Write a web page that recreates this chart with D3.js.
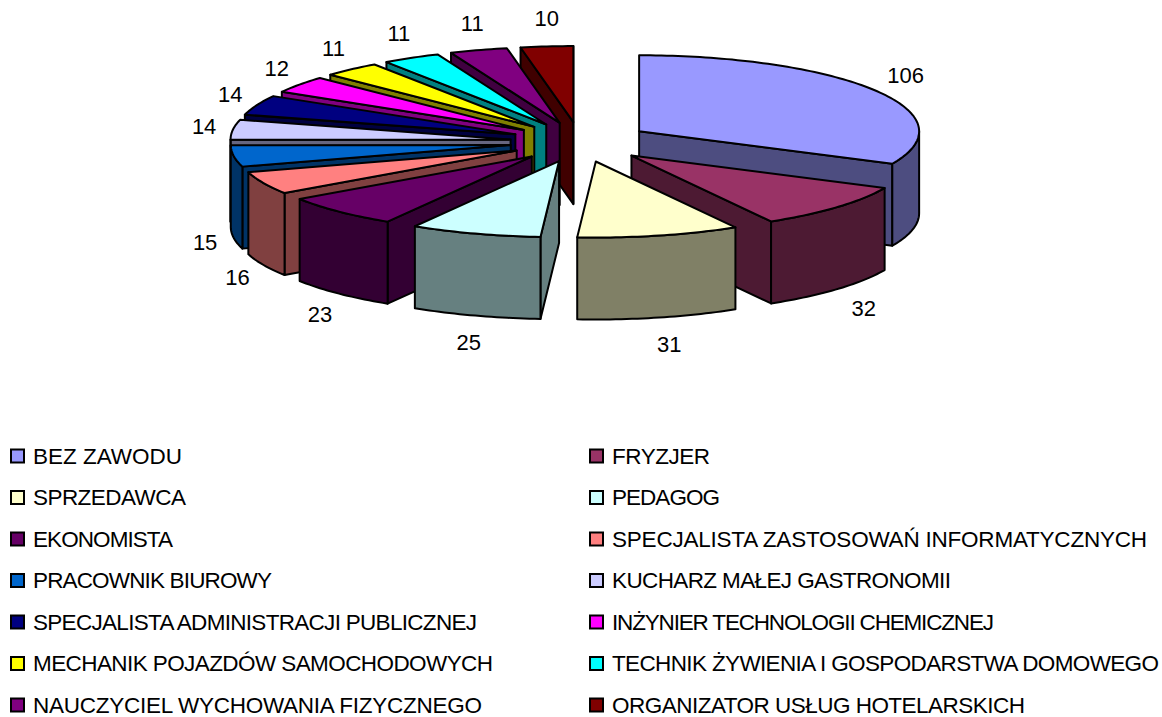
<!DOCTYPE html>
<html>
<head>
<meta charset="utf-8">
<script src="https://cdn.jsdelivr.net/npm/d3@7"></script>
<style>
  body { margin: 0; background: #fff; }
  text { font-family: "Liberation Sans", Arial, sans-serif; fill: #000; }
</style>
</head>
<body>
<svg></svg>
<script>
let categories = [
  'BEZ ZAWODU', 'FRYZJER', 'SPRZEDAWCA', 'PEDAGOG', 'EKONOMISTA',
  'SPECJALISTA ZASTOSOWAŃ INFORMATYCZNYCH', 'PRACOWNIK BIUROWY',
  'KUCHARZ MAŁEJ GASTRONOMII', 'SPECJALISTA ADMINISTRACJI PUBLICZNEJ',
  'INŻYNIER TECHNOLOGII CHEMICZNEJ', 'MECHANIK POJAZDÓW SAMOCHODOWYCH',
  'TECHNIK ŻYWIENIA I GOSPODARSTWA DOMOWEGO', 'NAUCZYCIEL WYCHOWANIA FIZYCZNEGO',
  'ORGANIZATOR USŁUG HOTELARSKICH'
]
let values = [106, 32, 31, 25, 23, 16, 15, 14, 14, 12, 11, 11, 11, 10]
let colors = [
  '#9999ff', '#993366', '#ffffcc', '#ccffff', '#660066', '#ff8080', '#0066cc',
  '#ccccff', '#000080', '#ff00ff', '#ffff00', '#00ffff', '#800080', '#800000'
]
// rendered width of each legend entry, the original has its own odd spacing
let legendWidths = [149, 98, 153, 108, 140, 535, 239, 339, 444, 382, 460, 547, 449, 413]

let svgWidth = 1162
let svgHeight = 717
let cx = 580
let cy = 142
let rx = 280
let ry = 76
let explodeX = 70
let explodeY = 20
let depth = 82

let svg = d3.select('svg')
  .attr('width', svgWidth)
  .attr('height', svgHeight)

let arcs = d3.pie().sort(null).value((d) => d)(values)
let line = d3.line().curve(d3.curveLinearClosed)

// apex of an exploded slice
function apex (d) {
  let mid = (d.startAngle + d.endAngle) / 2
  return [cx + explodeX * Math.sin(mid), cy - explodeY * Math.cos(mid)]
}

function rim (d, a) {
  let p = apex(d)
  return [p[0] + rx * Math.sin(a), p[1] - ry * Math.cos(a)]
}

function drop (p) {
  return [p[0], p[1] + depth]
}

function arcPoints (d, a0, a1) {
  let n = Math.max(2, Math.ceil((a1 - a0) / 0.02))
  return d3.range(n + 1).map((i) => rim(d, a0 + (a1 - a0) * i / n))
}

function drawSlice (d) {
  let color = colors[d.index]
  let side = d3.color(color).copy()
  side.r /= 2
  side.g /= 2
  side.b /= 2
  let g = svg.append('g')
    .attr('stroke', '#000')
    .attr('stroke-width', 2)
    .attr('stroke-linejoin', 'round')
  let p = apex(d)

  // flat cut walls, only the ones that face the viewer
  if (Math.sin(d.startAngle) < 0) {
    let q = rim(d, d.startAngle)
    g.append('path').attr('d', line([p, q, drop(q), drop(p)])).attr('fill', side)
  }
  if (Math.sin(d.endAngle) > 0) {
    let q = rim(d, d.endAngle)
    g.append('path').attr('d', line([p, q, drop(q), drop(p)])).attr('fill', side)
  }

  // outer wall, front half only
  let a0 = Math.max(d.startAngle, Math.PI / 2)
  let a1 = Math.min(d.endAngle, Math.PI * 1.5)
  if (a1 > a0) {
    let top = arcPoints(d, a0, a1)
    let bottom = top.map(drop).reverse()
    g.append('path').attr('d', line(top.concat(bottom))).attr('fill', side)
  }

  g.append('path')
    .attr('d', line([p].concat(arcPoints(d, d.startAngle, d.endAngle))))
    .attr('fill', color)
}

// back slices first, the front one last
let order = [13, 12, 11, 10, 9, 8, 7, 6, 5, 4, 0, 1, 2, 3]
order.forEach((i) => drawSlice(arcs[i]))

// value labels
svg.append('g')
  .selectAll('text')
  .data(arcs)
  .join('text')
  .attr('text-anchor', 'middle')
  .attr('dy', '0.35em')
  .attr('font-size', 22)
  .attr('x', (d) => {
    let mid = (d.startAngle + d.endAngle) / 2
    return apex(d)[0] + 312 * Math.sin(mid) + 3
  })
  .attr('y', (d) => {
    let mid = (d.startAngle + d.endAngle) / 2
    let c = Math.cos(mid)
    return apex(d)[1] - 104 * c + (c < 0 ? 82 : 0)
  })
  .text((d) => d.data)

// legend, two columns filled row by row
let rowScale = d3.scalePoint()
  .domain(d3.range(7))
  .range([456, 705])
let colScale = d3.scalePoint()
  .domain([0, 1])
  .range([11, 590])

let legend = svg.append('g')
  .selectAll('g')
  .data(categories)
  .join('g')
  .attr('transform', (d, i) => `translate(${colScale(i % 2)}, ${rowScale(Math.floor(i / 2))})`)

legend.append('rect')
  .attr('x', 0)
  .attr('y', -6.5)
  .attr('width', 13)
  .attr('height', 13)
  .attr('fill', (d, i) => colors[i])
  .attr('stroke', '#000')
  .attr('stroke-width', 2)

legend.append('text')
  .attr('x', 22)
  .attr('dy', '0.35em')
  .attr('font-size', 22.5)
  .attr('textLength', (d, i) => legendWidths[i])
  .attr('lengthAdjust', 'spacing')
  .text((d) => d)
</script>
</body>
</html>
